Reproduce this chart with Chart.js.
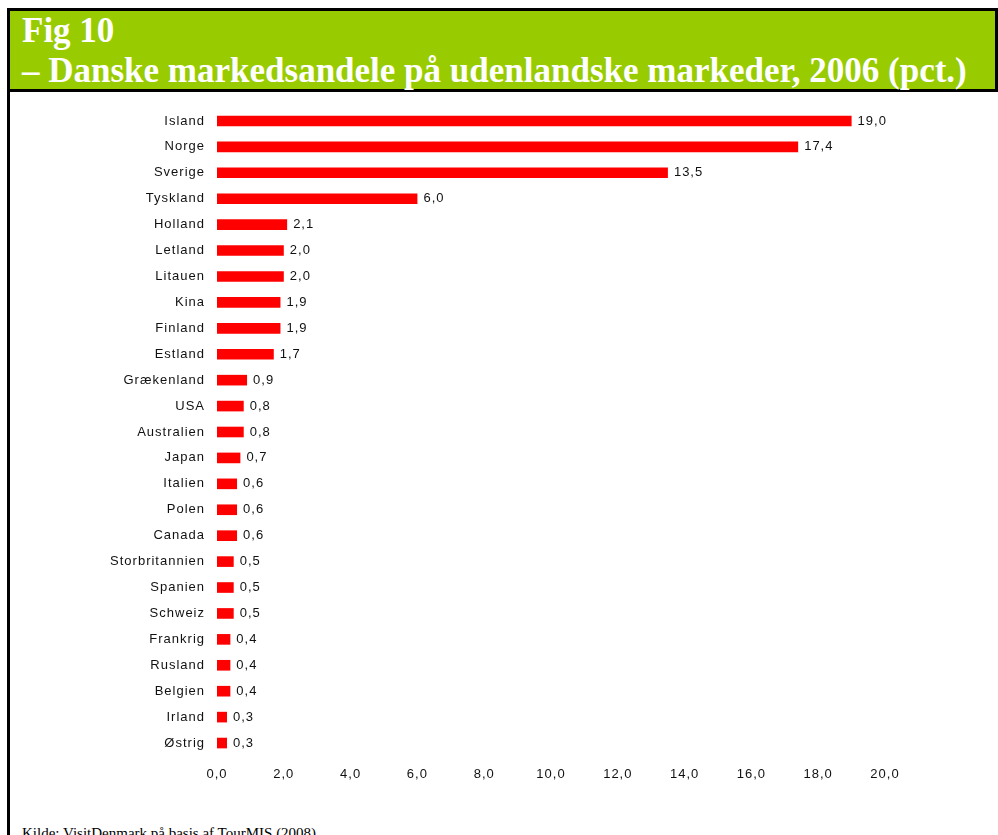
<!DOCTYPE html>
<html>
<head>
<meta charset="utf-8">
<script src="https://cdn.jsdelivr.net/npm/chart.js@4/dist/chart.umd.min.js"></script>
<style>
  body { margin: 0; background: #fff; overflow: hidden; }
  #frameLeft { position: absolute; left: 7px; top: 8px; width: 3px; height: 900px; background: #000; }
  #header {
    position: absolute; left: 7px; top: 8px; width: 991px; height: 84px;
    box-sizing: border-box; background: #99cc00;
    border: 3px solid #000;
  }
  #title {
    position: absolute; left: 22px; top: 11px;
    font-family: "Liberation Serif", "Times New Roman", serif;
    font-weight: bold; font-size: 35px; line-height: 40px;
    color: #fff; white-space: nowrap;
  }
  #chartBox { position: absolute; left: 10px; top: 92px; }
  #source {
    position: absolute; left: 22px; top: 826px;
    font-family: "Liberation Serif", "Times New Roman", serif;
    font-size: 15px; line-height: 15px; color: #000; white-space: nowrap;
  }
</style>
</head>
<body>
<div id="frameLeft"></div>
<div id="header"></div>
<div id="title">Fig 10<br>– Danske markedsandele på udenlandske markeder, 2006 (pct.)</div>
<div id="chartBox"><canvas id="chartShare" width="988" height="704"></canvas></div>
<div id="source">Kilde: VisitDenmark på basis af TourMIS (2008)</div>

<script>
const countries = [
    "Island", "Norge", "Sverige", "Tyskland", "Holland", "Letland", "Litauen",
    "Kina", "Finland", "Estland", "Grækenland", "USA", "Australien", "Japan",
    "Italien", "Polen", "Canada", "Storbritannien", "Spanien", "Schweiz",
    "Frankrig", "Rusland", "Belgien", "Irland", "Østrig"
];
const shares = [
    19.0, 17.4, 13.5, 6.0, 2.1, 2.0, 2.0,
    1.9, 1.9, 1.7, 0.9, 0.8, 0.8, 0.7,
    0.6, 0.6, 0.6, 0.5, 0.5, 0.5,
    0.4, 0.4, 0.4, 0.3, 0.3
];
const axisMin = 0;
const axisMax = 20;
const axisStep = 2;

const fmt = v => Number(v).toFixed(1).replace(".", ",");

// tekst lidt bredere, som i originalen
const spacingPlugin = {
    id: "spacing",
    beforeDraw(chart) {
        chart.ctx.letterSpacing = "1px";
    }
};

// værdier ved enden af hver søjle
const valueLabels = {
    id: "valueLabels",
    afterDatasetsDraw(chart) {
        const ctx = chart.ctx;
        const meta = chart.getDatasetMeta(0);
        ctx.save();
        ctx.letterSpacing = "1px";
        ctx.font = '13px "Liberation Sans", Arial, sans-serif';
        ctx.fillStyle = "#111";
        ctx.textAlign = "left";
        ctx.textBaseline = "middle";
        meta.data.forEach((bar, i) => {
            ctx.fillText(fmt(shares[i]), bar.x + 6, bar.y);
        });
        ctx.restore();
    }
};

const chartShare = document.getElementById("chartShare");

new Chart(chartShare, {
    type: "bar",
    data: {
        labels: countries,
        datasets: [
            {
                data: shares,
                backgroundColor: "#ff0000",
                borderWidth: 0,
                barPercentage: 0.41,
                categoryPercentage: 1
            }
        ]
    },
    options: {
        indexAxis: "y",
        responsive: false,
        animation: false,
        layout: { padding: { top: 16, left: 0, right: 113, bottom: 0 } },
        plugins: {
            legend: { display: false },
            tooltip: { enabled: false }
        },
        scales: {
            x: {
                min: axisMin,
                max: axisMax,
                grid: { display: false, drawTicks: false },
                border: { display: false },
                ticks: {
                    stepSize: axisStep,
                    padding: 11,
                    color: "#111",
                    font: { family: '"Liberation Sans", Arial, sans-serif', size: 13 },
                    callback: v => fmt(v)
                },
                afterFit: scale => { scale.height = 40; }
            },
            y: {
                grid: { display: false, drawTicks: false },
                border: { display: false },
                ticks: {
                    padding: 12,
                    color: "#111",
                    font: { family: '"Liberation Sans", Arial, sans-serif', size: 13 }
                },
                afterFit: scale => {
                    scale.width = 207;
                    scale.paddingTop = 0;
                    scale.paddingBottom = 0;
                }
            }
        }
    },
    plugins: [spacingPlugin, valueLabels]
});
</script>
</body>
</html>
